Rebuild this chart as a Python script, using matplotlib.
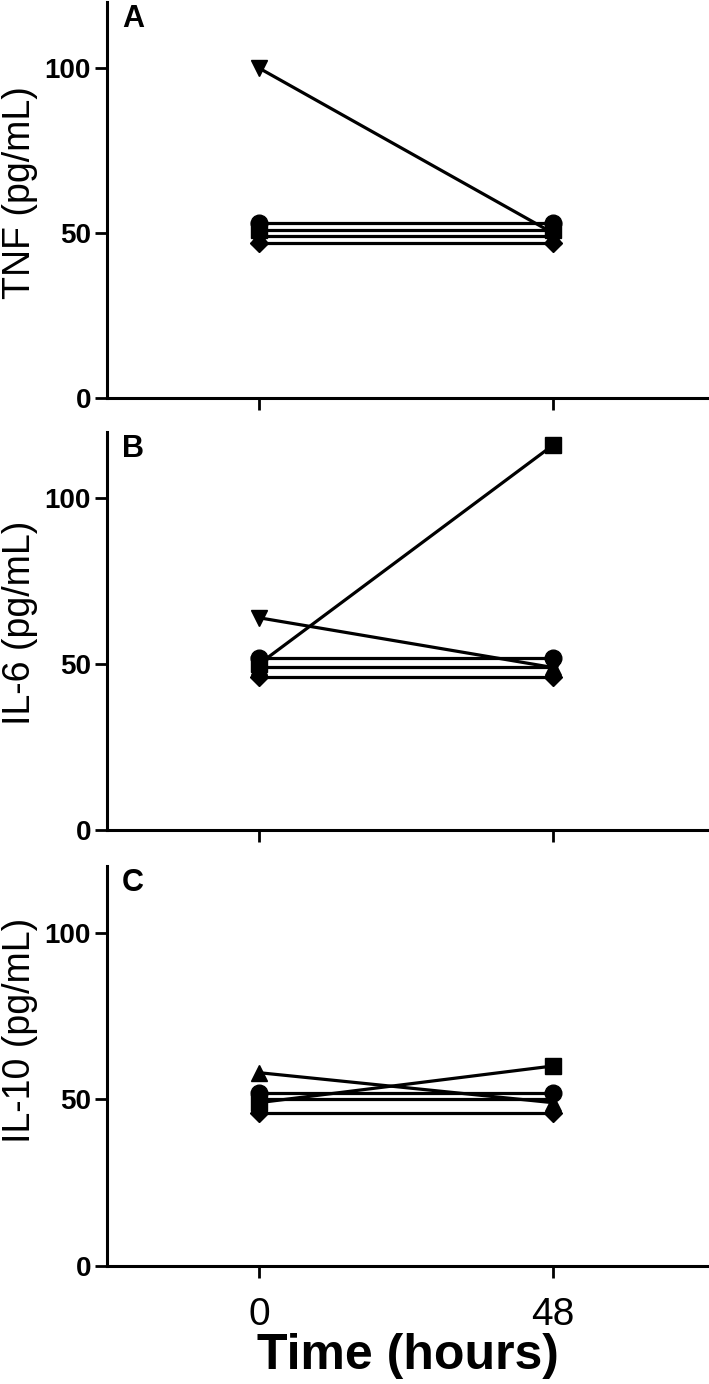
import matplotlib
matplotlib.use("Agg")
import matplotlib.pyplot as plt

plt.rcParams['font.family'] = ['Liberation Sans', 'DejaVu Sans']

# --- Data ---
times = [0, 48]
markers = ['o', 's', '^', 'v', 'D']   # one per subject

tnf_0 = [53, 51, 49, 100, 47]
tnf_48 = [53, 51, 49, 50, 47]

il6_0 = [52, 50, 49, 64, 46]
il6_48 = [52, 116, 49, 49, 46]

il10_0 = [52, 49, 58, 50, 46]
il10_48 = [52, 60, 49, 50, 46]

panels = [
    ('A', 'TNF (pg/mL)', tnf_0, tnf_48),
    ('B', 'IL-6 (pg/mL)', il6_0, il6_48),
    ('C', 'IL-10 (pg/mL)', il10_0, il10_48),
]

# --- Layout (pixels of a 709x1384 canvas) ---
W, H = 709, 1384
axes_px = [(2, 398), (432, 830), (866, 1266)]   # (top, bottom) of each panel
label_y = [0.52, 0.52, 0.59]
marker_sizes = {'o': 12, 's': 12, '^': 11, 'v': 11, 'D': 9}

fig = plt.figure(figsize=(W / 100, H / 100), dpi=100)

for i, (letter, ylabel, v0, v48) in enumerate(panels):
    top, bottom = axes_px[i]
    ax = fig.add_axes([107 / W, 1 - bottom / H, 1 - 107 / W, (bottom - top) / H])

    for m, a, b in zip(markers, v0, v48):
        ax.plot(times, [a, b], color='black', lw=2.3, marker=m,
                markersize=marker_sizes[m], markerfacecolor='black',
                markeredgecolor='black', clip_on=False, zorder=3)

    ax.set_xlim(-24.8, 73.5)
    ax.set_ylim(0, 120)
    ax.set_yticks([0, 50, 100])
    ax.set_xticks(times)

    for side in ['top', 'right']:
        ax.spines[side].set_visible(False)
    for side in ['left', 'bottom']:
        ax.spines[side].set_linewidth(2.2)

    ax.tick_params(axis='y', length=8.5, width=2.0, pad=3, labelsize=20)
    ax.tick_params(axis='x', length=8.5, width=2.0, pad=14, labelsize=28)
    for t in ax.get_yticklabels():
        t.set_fontweight('bold')

    if i < 2:
        ax.set_xticklabels([])
    else:
        ax.set_xlabel('Time (hours)', fontsize=36, fontweight='bold', labelpad=0)

    ax.set_ylabel(ylabel, fontsize=27)
    ax.yaxis.set_label_coords(-0.115, label_y[i])

    ax.text(0.025, 0.995, letter, transform=ax.transAxes, fontsize=22,
            fontweight='bold', ha='left', va='top')

fig.savefig('out.png', dpi=100)
